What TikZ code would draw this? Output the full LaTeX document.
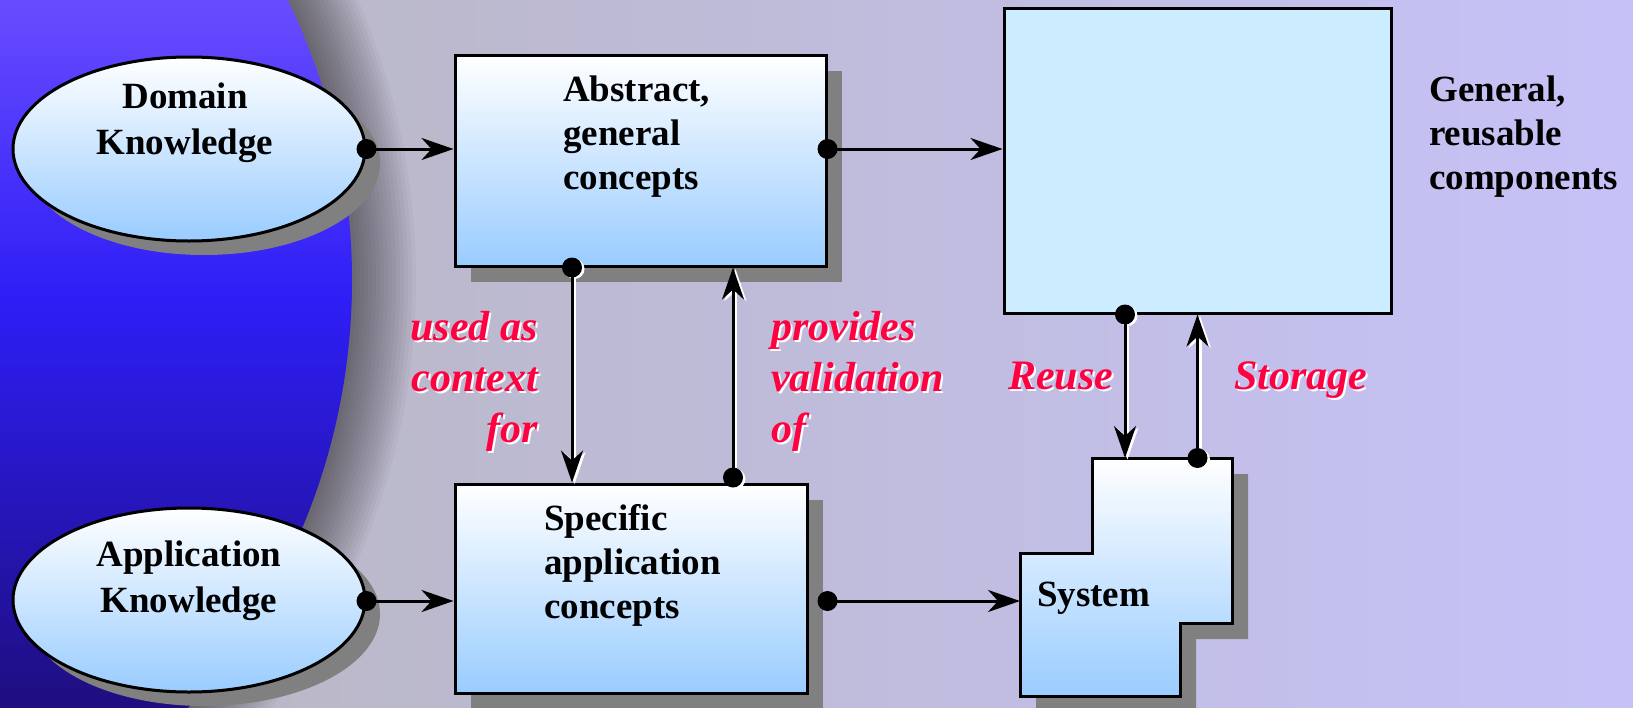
\documentclass[tikz,border=0pt]{standalone}
\usepackage{fontspec}
\setmainfont{Liberation Serif}
\usetikzlibrary{arrows.meta,shapes.geometric,shadows,calc}

\definecolor{bgleft}{RGB}{184,182,190}
\definecolor{bgmid}{RGB}{192,190,214}
\definecolor{bgright}{RGB}{198,194,248}
\definecolor{globetop}{RGB}{104,76,255}
\definecolor{globemid}{RGB}{46,30,246}
\definecolor{globebot}{RGB}{30,14,128}
\definecolor{paleblue}{RGB}{153,204,255}
\definecolor{repofill}{RGB}{204,236,255}
\definecolor{shadowgray}{RGB}{128,128,128}
\definecolor{labelred}{RGB}{255,0,64}

\tikzset{
  outline/.style={draw=black, line width=3pt},
  gradfill/.style={top color=white, bottom color=paleblue},
  castshadow/.style={drop shadow={opacity=1, fill=shadowgray, shadow xshift=16pt, shadow yshift=-16pt}},
  conceptbox/.style={rectangle, outline, gradfill, castshadow, inner sep=0pt},
  knowledge/.style={ellipse, outline, gradfill, inner sep=0pt,
    minimum width=352pt, minimum height=184pt,
    drop shadow={opacity=1, fill=shadowgray, shadow xshift=15pt, shadow yshift=-14pt}},
  boxtext/.style={font=\bfseries\fontsize{37}{44}\selectfont, inner sep=0pt, align=left},
  ovaltext/.style={font=\bfseries\fontsize{37}{46}\selectfont, inner sep=0pt, align=center},
  relation/.style={font=\bfseries\itshape\fontsize{42}{51}\selectfont, inner sep=0pt, text=labelred},
  relshade/.style={relation, text=white, xshift=2pt, yshift=-2pt},
  link/.style={line width=3pt},
  flow/.style={link, -{Stealth[length=32pt, width=22pt, inset=10pt]}},
}

\begin{document}
\begin{tikzpicture}[x=1pt, y=-1pt]
\useasboundingbox (0,0) rectangle (1633,707);
\begin{scope}
  \clip (0,0) rectangle (1633,707);
  % backdrop
  \shade[left color=bgleft, middle color=bgmid, right color=bgright] (0,0) rectangle (1633,707);
  % soft grey halo round the globe
  \foreach \k in {0,...,16}{
    \pgfmathsetmacro\rr{640+4*\k}
    \fill[black, opacity=0.03] (-288,280) circle (\rr pt);
  }
  % the globe
  \begin{scope}
    \clip (-288,280) circle (640pt);
    \shade[top color=globetop, bottom color=globemid] (0,0) rectangle (420,300);
    \shade[top color=globemid, bottom color=globebot] (0,300) rectangle (420,707);
  \end{scope}

  % knowledge sources
  \node[knowledge] (dom) at (189,149) {};
  \node[knowledge] (app) at (189,600) {};

  % concept boxes
  \node[conceptbox, minimum width=371pt, minimum height=211pt] (abs) at (640.5,160.5) {};
  \node[conceptbox, minimum width=352pt, minimum height=209pt] (spec) at (631,588.5) {};

  % component repository
  \node[rectangle, outline, fill=repofill, inner sep=0pt,
        minimum width=387pt, minimum height=305pt] (repo) at (1197.5,160.5) {};

  % system outline
  \coordinate (sysA) at (1092,458);
  \coordinate (sysB) at (1232,458);
  \coordinate (sysC) at (1232,623);
  \coordinate (sysD) at (1180,623);
  \coordinate (sysE) at (1180,696);
  \coordinate (sysF) at (1020,696);
  \coordinate (sysG) at (1020,553);
  \coordinate (sysH) at (1092,553);
  \fill[shadowgray, shift={(16,16)}] (1092,458) -- (1232,458) -- (1232,623) -- (1180,623)
     -- (1180,696) -- (1020,696) -- (1020,553) -- (1092,553) -- cycle;
  \draw[outline, gradfill] (sysA) -- (sysB) -- (sysC) -- (sysD) -- (sysE) -- (sysF) -- (sysG) -- (sysH) -- cycle;
  \coordinate (sysin) at (1020,601);

  % texts (base anchor sits on the last line)
  \node[ovaltext, anchor=base] (domtxt) at (185,154) {Domain\\Knowledge};
  \node[ovaltext, anchor=base] (apptxt) at (189,612) {Application\\Knowledge};
  \node[boxtext, anchor=base west] (abstxt) at (563,189) {Abstract,\\general\\concepts};
  \node[boxtext, anchor=base west] (spectxt) at (544,618) {Specific\\application\\concepts};
  \node[boxtext, anchor=base west] (gentxt) at (1429,189) {General,\\reusable\\components};
  \node[boxtext, anchor=base west] (systxt) at (1037,606) {System};

  % horizontal flows
  \draw[flow] (dom.east) -- (dom.east -| abs.west);
  \fill (dom.east) circle (10pt);
  \coordinate (absout) at (abs.east |- dom.east);
  \draw[flow] (absout) -- (absout -| repo.west);
  \fill (absout) circle (10pt);
  \coordinate (appout) at (app.east |- sysin);
  \draw[flow] (appout) -- (appout -| spec.west);
  \fill (appout) circle (10pt);
  \coordinate (specedge) at ([xshift=19pt]spec.east);
  \coordinate (specout) at (specedge |- sysin);
  \draw[flow] (specout) -- (sysin);
  \fill (specout) circle (10pt);

  % vertical flows, each with a thin white rim
  \coordinate (ctxx) at (572,0);
  \coordinate (valx) at (733,0);
  \coordinate (reux) at (1125,0);
  \coordinate (valfoot) at ($(spec.north -| valx)+(0,-5)$);
  \foreach \ink/\dx/\dy in {white/2.5/-1.5, black/0/0}{
    \begin{scope}[transform canvas={xshift=\dx pt, yshift=\dy pt}, \ink]
      \draw[flow] (abs.south -| ctxx) -- (spec.north -| ctxx);
      \fill (abs.south -| ctxx) circle (10pt);
      \draw[flow] (valfoot) -- (abs.south -| valx);
      \fill (valfoot) circle (10pt);
      \draw[flow] (repo.south -| reux) -- (sysA -| reux);
      \fill (repo.south -| reux) circle (10pt);
      \draw[flow] (sysA -| repo.south) -- (repo.south);
      \fill (sysA -| repo.south) circle (10pt);
    \end{scope}
  }

  % relation labels
  \node[relshade, align=right, anchor=base east] (ctxrim) at (538,442) {used as\\context\\for};
  \node[relation, align=right, anchor=base east] (ctxtxt) at (538,442) {used as\\context\\for};
  \node[relshade, align=left, anchor=base west] (valrim) at (771,442) {provides\\validation\\of};
  \node[relation, align=left, anchor=base west] (valtxt) at (771,442) {provides\\validation\\of};
  \node[relshade, anchor=base west] (reurim) at (1008,389) {Reuse};
  \node[relation, anchor=base west] (reutxt) at (1008,389) {Reuse};
  \node[relshade, anchor=base west] (storim) at (1234,389) {Storage};
  \node[relation, anchor=base west] (stotxt) at (1234,389) {Storage};
\end{scope}
\end{tikzpicture}
\end{document}
